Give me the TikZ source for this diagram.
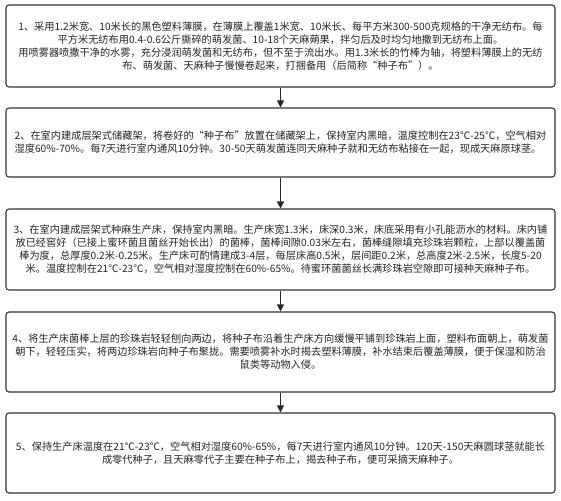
\documentclass[tikz,border=0pt]{standalone}
\usepackage{fontspec}
\newfontfamily\cjkfont{Noto Sans CJK SC}
\usetikzlibrary{arrows.meta}

\begin{document}
\begin{tikzpicture}[x=1pt,y=-1pt,
  stepbox/.style={draw=black!80,line width=1.1pt,rounded corners=3pt,fill=white,
    minimum width=549pt,inner sep=0pt,text=black!85,
    font=\cjkfont\fontsize{10.2pt}{13pt}\selectfont},
  flowarrow/.style={-{Triangle[length=7pt,width=7pt]},line width=1.2pt,draw=black!85}]
  \useasboundingbox (0,0) rectangle (561,500);

  % Step 1
  \node[stepbox,minimum height=82pt,align=center] (step1) at (280.5,46) {1、采用1.2米宽、10米长的黑色塑料薄膜，在薄膜上覆盖1米宽、10米长、每平方米300-500克规格的干净无纺布。每\\
平方米无纺布用0.4-0.6公斤撕碎的萌发菌、10-18个天麻蒴果，拌匀后及时均匀地撒到无纺布上面。\\
用喷雾器喷撒干净的水雾，充分浸润萌发菌和无纺布，但不至于流出水。用1.3米长的竹棒为轴，将塑料薄膜上的无纺\\
布、萌发菌、天麻种子慢慢卷起来，打捆备用（后简称“种子布”）。};

  % Step 2
  \node[stepbox,minimum height=69pt,align=left] (step2) at (280.5,142.5) {2、在室内建成层架式储藏架，将卷好的“种子布”放置在储藏架上，保持室内黑暗，温度控制在23℃-25℃，空气相对\\
湿度60\%-70\%。每7天进行室内通风10分钟。30-50天萌发菌连同天麻种子就和无纺布粘接在一起，现成天麻原球茎。};

  % Step 3
  \node[stepbox,minimum height=81pt,align=center] (step3) at (280.5,249.5) {3、在室内建成层架式种麻生产床，保持室内黑暗。生产床宽1.3米，床深0.3米，床底采用有小孔能沥水的材料。床内铺\\
放已经窖好（已接上蜜环菌且菌丝开始长出）的菌棒，菌棒间隙0.03米左右，菌棒缝隙填充珍珠岩颗粒，上部以覆盖菌\\
棒为度，总厚度0.2米-0.25米。生产床可酌情建成3-4层，每层床高0.5米，层间距0.2米，总高度2米-2.5米，长度5-20\\
米。温度控制在21℃-23℃，空气相对湿度控制在60\%-65\%。待蜜环菌菌丝长满珍珠岩空隙即可接种天麻种子布。};

  % Step 4
  \node[stepbox,minimum height=80pt,align=center] (step4) at (280.5,352) {4、将生产床菌棒上层的珍珠岩轻轻刨向两边，将种子布沿着生产床方向缓慢平铺到珍珠岩上面，塑料布面朝上，萌发菌\\
朝下，轻轻压实，将两边珍珠岩向种子布聚拢。需要喷雾补水时揭去塑料薄膜，补水结束后覆盖薄膜，便于保湿和防治\\
鼠类等动物入侵。};

  % Step 5
  \node[stepbox,minimum height=80pt,align=center] (step5) at (280.5,453) {5、保持生产床温度在21℃-23℃，空气相对湿度60\%-65\%，每7天进行室内通风10分钟。120天-150天麻圆球茎就能长\\
成零代种子，且天麻零代子主要在种子布上，揭去种子布，便可采摘天麻种子。};

  % Arrows
  \draw[flowarrow] (step1) -- (step2);
  \draw[flowarrow] (step2) -- (step3);
  \draw[flowarrow] (step3) -- (step4);
  \draw[flowarrow] (step4) -- (step5);

\end{tikzpicture}
\end{document}
